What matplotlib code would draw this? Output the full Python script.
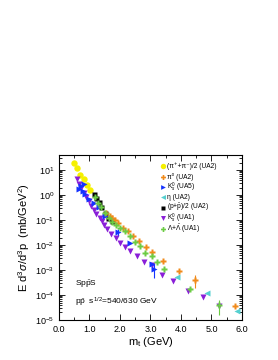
import numpy as np
import matplotlib
matplotlib.use('Agg')
from matplotlib import pyplot as plt
from matplotlib.ticker import LogLocator, NullFormatter, MultipleLocator

plt.rcParams['font.family'] = ['Liberation Sans', 'DejaVu Sans']
plt.rcParams['mathtext.fontset'] = 'custom'
plt.rcParams['mathtext.rm'] = 'Liberation Sans'
plt.rcParams['mathtext.it'] = 'Liberation Sans:italic'
plt.rcParams['mathtext.bf'] = 'Liberation Sans:bold'

# (pi+ + pi-)/2 UA2
m_pic = [0.49, 0.59, 0.70, 0.81, 0.92, 1.01]
y_pic = [20.0, 12.0, 6.5, 4.3, 2.6, 1.6]

# pi0 UA2
m_pi0 = [1.55, 1.66, 1.75, 1.84, 1.95, 2.09, 2.25, 2.43, 2.63, 2.85, 3.05, 3.42, 3.94, 4.46, 5.77]
y_pi0 = [0.19, 0.148, 0.126, 0.105, 0.076, 0.050, 0.035, 0.023, 0.014, 0.0083, 0.0052, 0.0023, 0.00095, 0.00041, 3.5e-5]
e_pi0 = [0, 0, 0, 0, 0, 0, 0, 0, 0, 0, 0, 0, 0, 0.00022, 0]

# K0s UA5
m_k5 = [0.67, 0.71, 0.79, 0.82, 0.86, 1.00, 1.16, 1.32, 1.51, 1.94, 2.33, 3.04, 3.12]
y_k5 = [1.8, 2.4, 1.5, 2.8, 1.1, 0.7, 0.5, 0.32, 0.14, 0.032, 0.012, 0.0017, 0.0011]
e_k5 = [0, 0, 0, 0, 0, 0, 0, 0, 0, 0.010, 0, 0, 0.0006]

# eta UA2
m_eta = [3.86, 4.84, 5.83]
y_eta = [0.00054, 0.00012, 2.3e-5]

# (p + pbar)/2 UA2
m_p = [1.14, 1.22, 1.30, 1.39, 1.50, 1.62, 1.73]
y_p = [1.1, 0.76, 0.51, 0.32, 0.20, 0.125, 0.095]

# K0s UA1
m_k1 = [0.60, 0.66, 0.73, 0.82, 0.90, 0.97, 1.06, 1.14, 1.22, 1.33, 1.40, 1.48, 1.56, 1.70,
        1.86, 2.00, 2.16, 2.33, 2.55, 2.80, 3.04, 3.39, 3.73, 4.24, 4.73, 5.26]
y_k1 = [4.3, 2.8, 1.95, 1.23, 0.81, 0.56, 0.38, 0.26, 0.17, 0.125, 0.093, 0.065, 0.044, 0.028,
        0.019, 0.0126, 0.0083, 0.0058, 0.0036, 0.0021, 0.0016, 0.00066, 0.00035, 0.00014, 8.3e-5, 3.5e-5]

# Lambda + Lambdabar UA1
m_lam = [1.19, 1.28, 1.39, 1.50, 1.63, 1.75, 1.87, 2.00, 2.16, 2.32, 2.49, 2.66, 2.82, 3.06,
         3.22, 3.44, 4.30, 5.26]
y_lam = [0.87, 0.47, 0.32, 0.20, 0.126, 0.083, 0.063, 0.050, 0.035, 0.022, 0.0138, 0.0091,
         0.0050, 0.0036, 0.0021, 0.00105, 0.00018, 4.1e-5]
e_lam = [0] * 17 + [2.5e-5]

labels = ['(π\u207a+π\u207b)/2 (UA2)', 'π\u2070 (UA2)', r'K$^0_s$ (UA5)', 'η (UA2)',
          r'(p+$\bar{\rm p}$)/2 (UA2)', r'K$^0_s$ (UA1)', r'Λ+$\bar{Λ}$ (UA1)']
colors = ['#f5f000', '#f08a1a', '#1432ff', '#55d0d0', 'black', '#8a1fd8', '#6ccc44']
markers = ['o', 'P', '>', '<', 's', 'v', 'P']
sizes = [4.6, 4.2, 4.0, 4.2, 3.6, 4.2, 4.2]

fig = plt.figure(figsize=(2.78, 3.6), dpi=100)
ax = fig.add_axes([0.2122, 0.1111, 0.6583, 0.4583])

series = [(m_pic, y_pic, None), (m_pi0, y_pi0, e_pi0), (m_k5, y_k5, e_k5), (m_eta, y_eta, None),
          (m_p, y_p, None), (m_k1, y_k1, None), (m_lam, y_lam, e_lam)]
for (mx, my, me), c, mk, s in zip(series, colors, markers, sizes):
    if me is None:
        ax.plot(mx, my, mk, color=c, ms=s, mec='none')
    else:
        ax.errorbar(mx, my, yerr=me, fmt=mk, color=c, ms=s, mec='none', elinewidth=0.8, capsize=0)

ax.set_yscale('log')
ax.set_xlim(0, 6)
ax.set_ylim(1e-5, 40)
ax.set_xticks(np.arange(0, 7, 1))
ax.set_xticklabels(['%.1f' % v for v in range(7)])
ax.xaxis.set_minor_locator(MultipleLocator(0.5))
ax.yaxis.set_major_locator(LogLocator(base=10, numticks=20))
ax.yaxis.set_minor_locator(LogLocator(base=10, subs=np.arange(2, 10), numticks=20))
ax.yaxis.set_minor_formatter(NullFormatter())
ax.tick_params(which='both', direction='in', top=True, right=True, labelsize=6.5, width=0.6)
ax.tick_params(which='major', length=4)
ax.tick_params(which='minor', length=2)
for s in ax.spines.values():
    s.set_linewidth(0.8)

ax.set_xlabel(r'm$_{\rm t}$ (GeV)', fontsize=8, labelpad=1)
ax.set_ylabel(r'E d$^3\sigma$/d$^3$p  (mb/GeV$^2$)', fontsize=8, labelpad=2)

ax.text(0.52, 10**-3.55, r'Sp$\bar{\rm p}$S', fontsize=6, va='center')
ax.text(0.52, 10**-4.3, r'p$\bar{\rm p}$  s$^{1/2}$=540/630 GeV', fontsize=6, va='center')

# legend drawn by hand, rows about 10 px apart
for i, (lab, c, mk, s) in enumerate(zip(labels, colors, markers, sizes)):
    yy = 0.932 - i * 0.063
    ax.plot([0.567], [yy], mk, color=c, ms=s * 0.85, mec='none', transform=ax.transAxes, clip_on=False)
    ax.text(0.588, yy, lab, fontsize=4.8, va='center', ha='left', transform=ax.transAxes)

fig.savefig('out.png', dpi=100)
